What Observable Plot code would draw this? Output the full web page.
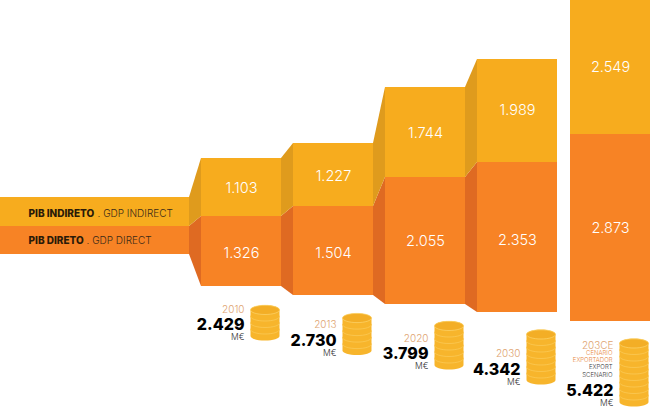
<!DOCTYPE html>
<html>
<head>
<meta charset="utf-8">
<script src="https://cdn.jsdelivr.net/npm/d3@7"></script>
<script src="https://cdn.jsdelivr.net/npm/@observablehq/plot@0.6"></script>
<style>
html,body{margin:0;padding:0;background:#fff;overflow:hidden}
svg{display:block}
</style>
</head>
<body>
<div id="chart"></div>
<script>
// Displayed figures
const years = ["2010", "2013", "2020", "2030", "203CE"];
const gdpDirect = ["1.326", "1.504", "2.055", "2.353", "2.873"];
const gdpIndirect = ["1.103", "1.227", "1.744", "1.989", "2.549"];
const gdpTotal = ["2.429", "2.730", "3.799", "4.342", "5.422"];
// Picture levels of each stack (the infographic is not drawn to a common baseline)
const directBase = [2420, 2240, 2060, 1900, 1720];
const directTop = [3820, 4020, 4600, 4900, 5460];
const indirectTop = [4980, 5280, 6400, 6960, 8140];
const legendLevels = {base: 3060, mid: 3620, top: 4200};
// Coin stacks
const coinCounts = [4, 5, 6, 7, 9];
const coinBase = [1562, 1270, 982, 682, 242];
// Label levels
const directLabelLevel = [3080, 3080, 3320, 3340, 3580];
const indirectLabelLevel = [4380, 4620, 5480, 5940, 6800];
const yearLevel = [1960, 1660, 1380, 1080, 1240];
const totalLevel = [1660, 1340, 1080, 760, 340];
const unitLevel = [1400, 1080, 820, 500, 80];
const scenarioPt = ["CENARIO", "EXPORTADOR"];
const scenarioPtLevel = [1080, 940];
const scenarioEn = ["EXPORT", "SCENARIO"];
const scenarioEnLevel = [800, 640];

// Layout
const W = 650, H = 407, pitch = 92, colW = 80, firstX = 201;
const YEL = "#f7ac1e", ORG = "#f78325", YEL_D = "#df9b1d", ORG_D = "#df6a22";
const FONT = "Inter, 'Open Sans', sans-serif";
const stage = px => px / pitch;
const colW_s = stage(colW), gap_s = stage(pitch - colW);
const xMin = stage(-firstX), xMax = stage(W - firstX);

const idx = d3.range(years.length);
const pos = idx.map(i => i < 4 ? i : i + stage(1)); // the scenario column stands apart
const flat = [], conn = [];
function band(arr, key, a, b, lowA, lowB, highA, highB) {
  arr.push({key, x: a, y1: lowA, y2: highA}, {key, x: b, y1: lowB, y2: highB});
}
// Legend strip
band(flat, "lo", xMin, -gap_s, legendLevels.base, legendLevels.base, legendLevels.mid, legendLevels.mid);
band(flat, "li", xMin, -gap_s, legendLevels.mid, legendLevels.mid, legendLevels.top, legendLevels.top);
band(conn, "co", -gap_s, 0, legendLevels.base, directBase[0], legendLevels.mid, directTop[0]);
band(conn, "ci", -gap_s, 0, legendLevels.mid, directTop[0], legendLevels.top, indirectTop[0]);
idx.forEach(i => {
  band(flat, "o" + i, pos[i], pos[i] + colW_s, directBase[i], directBase[i], directTop[i], directTop[i]);
  band(flat, "i" + i, pos[i], pos[i] + colW_s, directTop[i], directTop[i], indirectTop[i], indirectTop[i]);
  if (i < 3) {
    band(conn, "co" + i, pos[i] + colW_s, pos[i + 1], directBase[i], directBase[i + 1], directTop[i], directTop[i + 1]);
    band(conn, "ci" + i, pos[i] + colW_s, pos[i + 1], directTop[i], directTop[i + 1], indirectTop[i], indirectTop[i + 1]);
  }
});
const isIndirect = d => d.key.includes("i");

const center = idx.map(i => pos[i] + colW_s / 2);
const textRows = idx.flatMap(i => [
  {x: center[i], y: directLabelLevel[i], t: gdpDirect[i]},
  {x: center[i], y: indirectLabelLevel[i], t: gdpIndirect[i]}
]);

const COIN_STEP = 130; // level units per coin
const coins = idx.flatMap(i => d3.range(coinCounts[i]).map(k => ({x: pos[i], y: coinBase[i] + k * COIN_STEP, k})));
const rims = coins.filter(c => c.k > 0);
const tops = idx.map(i => ({x: pos[i], y: coinBase[i] + (coinCounts[i] - 1) * COIN_STEP}));

// One coin seen slightly from above
const RX = 14.5, RY = 4.6, TH = 6.5, K = 0.5523;
const coinSide = {draw(c) {
  c.moveTo(-RX, 0);
  c.bezierCurveTo(-RX, -RY * K, -RX * K, -RY, 0, -RY);
  c.bezierCurveTo(RX * K, -RY, RX, -RY * K, RX, 0);
  c.lineTo(RX, TH);
  c.bezierCurveTo(RX, TH + RY * K, RX * K, TH + RY, 0, TH + RY);
  c.bezierCurveTo(-RX * K, TH + RY, -RX, TH + RY * K, -RX, TH);
  c.closePath();
}};
const coinRim = {draw(c) {
  c.moveTo(RX, TH);
  c.bezierCurveTo(RX, TH + RY * K, RX * K, TH + RY, 0, TH + RY);
  c.bezierCurveTo(-RX * K, TH + RY, -RX, TH + RY * K, -RX, TH);
}};
const coinFace = {draw(c) {
  c.moveTo(-RX, 0);
  c.bezierCurveTo(-RX, -RY * K, -RX * K, -RY, 0, -RY);
  c.bezierCurveTo(RX * K, -RY, RX, -RY * K, RX, 0);
  c.bezierCurveTo(RX, RY * K, RX * K, RY, 0, RY);
  c.bezierCurveTo(-RX * K, RY, -RX, RY * K, -RX, 0);
  c.closePath();
}};

const rightLabel = (vals, levels, opts) => Plot.text(idx.map(i => ({x: pos[i], y: levels[i], t: vals[i]})), {
  x: "x", y: "y", text: "t", textAnchor: "end", dx: 43, fontFamily: FONT, ...opts
});
const legendText = (label, dx, level, fontWeight, fill) => Plot.text([label], {
  frameAnchor: "left", dx, y: () => level, text: d => d, fontSize: 10, fontWeight, fill, fontFamily: FONT
});

const chart = Plot.plot({
  width: W, height: H, margin: 0,
  x: {axis: null, domain: [xMin, xMax], range: [0, W]},
  y: {axis: null, domain: [0, H * 20], range: [H, 0]},
  marks: [
    Plot.areaY(conn, {x: "x", y1: "y1", y2: "y2", z: "key", fill: d => isIndirect(d) ? YEL_D : ORG_D}),
    Plot.areaY(flat, {x: "x", y1: "y1", y2: "y2", z: "key", fill: d => isIndirect(d) ? YEL : ORG}),
    Plot.text(textRows, {x: "x", y: "y", text: "t", fill: "#fff", fontSize: 14.5, fontWeight: 300, fontFamily: FONT}),
    // legend
    legendText("PIB INDIRETO", 28, 3880, 800, "#2a1a08"),
    legendText(". GDP INDIRECT", 97, 3880, 300, "#3a2a18"),
    legendText("PIB DIRETO", 28, 3340, 800, "#2a1a08"),
    legendText(". GDP DIRECT", 86, 3340, 300, "#3a2a18"),
    // totals
    rightLabel(years, yearLevel, {fontSize: 10, fontWeight: 300, fill: "#e0a470"}),
    rightLabel(gdpTotal, totalLevel, {fontSize: 16, fontWeight: 800, fill: "#000"}),
    rightLabel(idx.map(() => "M€"), unitLevel, {fontSize: 8.5, fontWeight: 300, fill: "#333"}),
    // export-scenario notes
    Plot.text(scenarioPt, {x: () => pos[4], y: (d, i) => scenarioPtLevel[i], text: d => d, textAnchor: "end", dx: 42, fontSize: 6, fontWeight: 300, fill: "#e8853a", fontFamily: FONT}),
    Plot.text(scenarioEn, {x: () => pos[4], y: (d, i) => scenarioEnLevel[i], text: d => d, textAnchor: "end", dx: 42, fontSize: 6, fontWeight: 300, fill: "#333", fontFamily: FONT}),
    // coins
    Plot.dot(coins, {x: "x", y: "y", dx: 63.5, symbol: coinSide, r: 5, fill: "#f7b52c"}),
    Plot.dot(rims, {x: "x", y: "y", dx: 63.5, symbol: coinRim, r: 5, fill: "none", stroke: "#fcd063", strokeWidth: 0.6}),
    Plot.dot(tops, {x: "x", y: "y", dx: 63.5, symbol: coinFace, r: 5, fill: "#f3ae26", stroke: "#fcd56e", strokeWidth: 0.7})
  ]
});
document.getElementById("chart").append(chart);
</script>
</body>
</html>
